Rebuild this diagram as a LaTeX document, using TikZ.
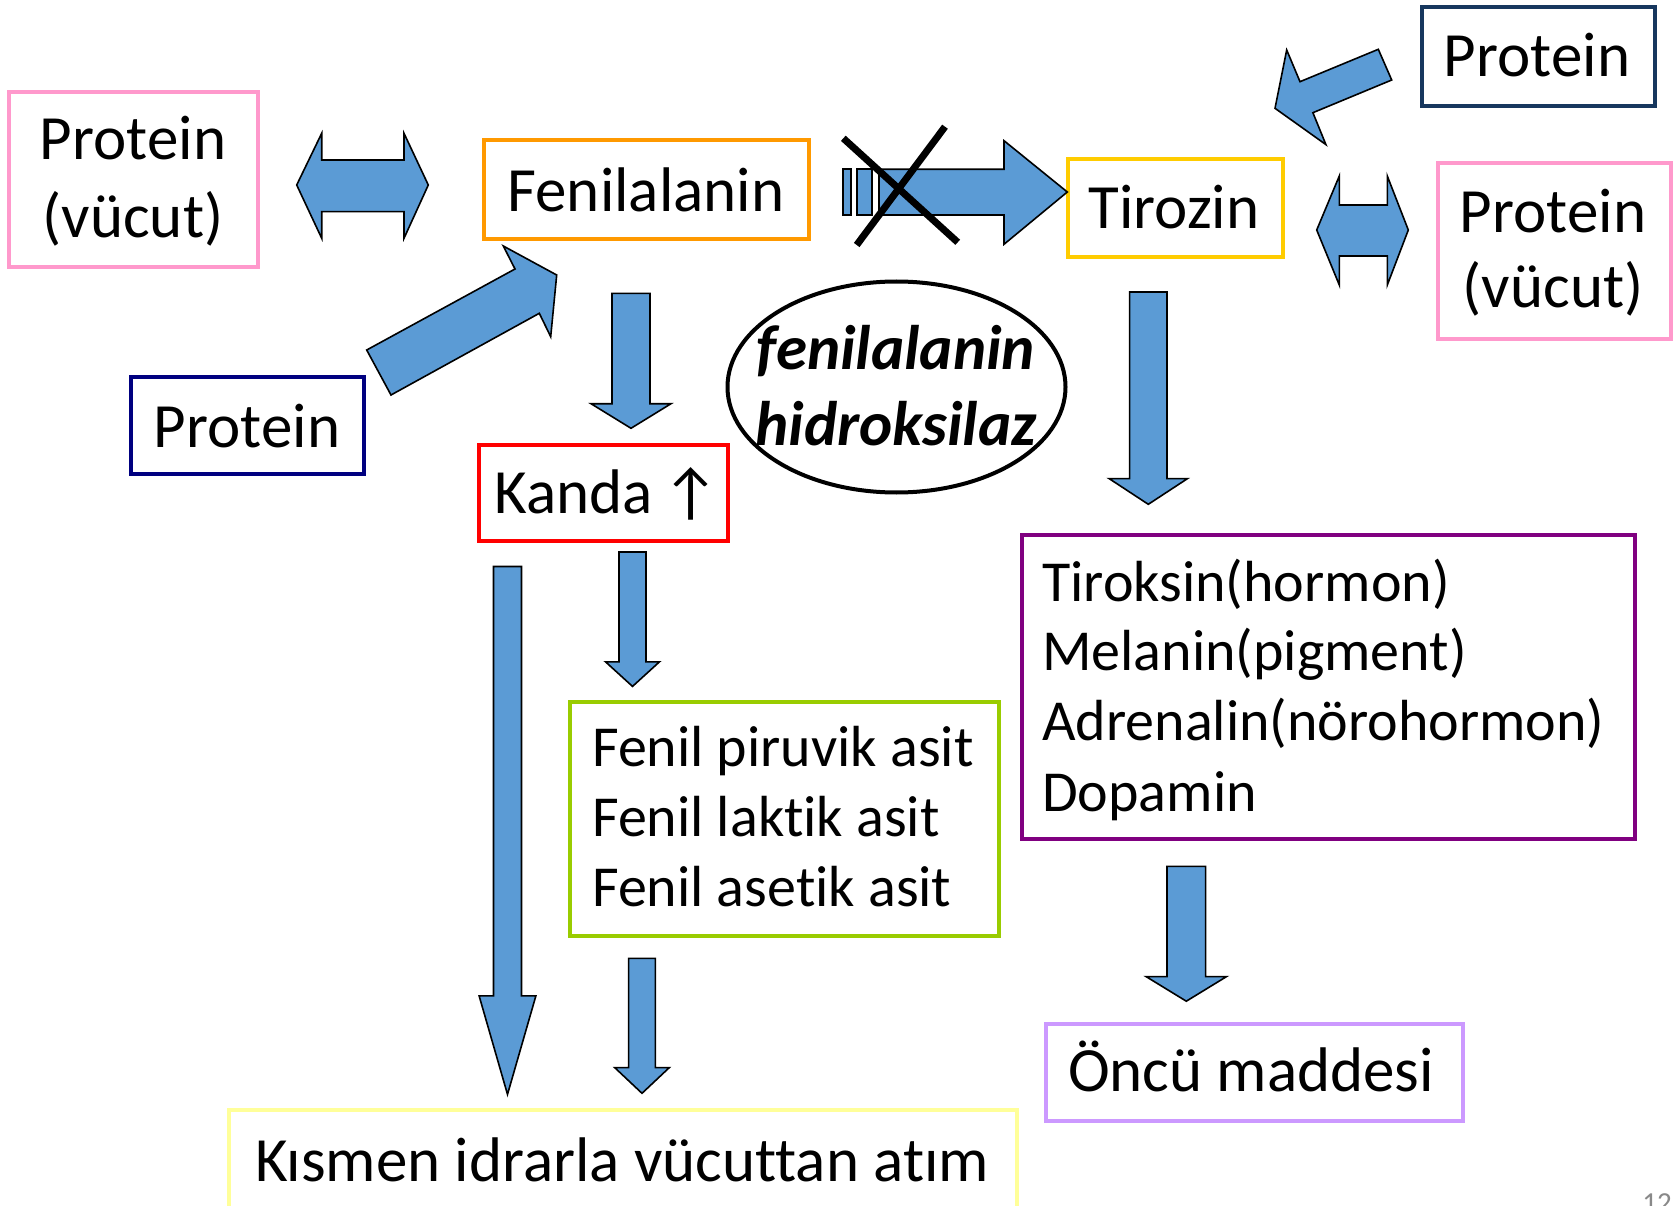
\documentclass[tikz,border=0pt]{standalone}
\usepackage{fontspec}
\setmainfont{Carlito}[Ligatures={NoCommon}]
\usetikzlibrary{shapes.geometric}
\definecolor{cpink}{HTML}{FF99CC}
\definecolor{corange}{HTML}{FF9900}
\definecolor{cnavy}{HTML}{000080}
\definecolor{cdeep}{HTML}{17375E}
\definecolor{cgold}{HTML}{FFCC00}
\definecolor{cred}{HTML}{FF0000}
\definecolor{cpurple}{HTML}{800080}
\definecolor{cgreen}{HTML}{99CC00}
\definecolor{clilac}{HTML}{CC99FF}
\definecolor{cyellow}{HTML}{FFFF99}
\definecolor{arrowblue}{HTML}{5B9BD5}
\definecolor{pagegray}{HTML}{898989}
\tikzset{
  box/.style={draw=#1, line width=4pt, fill=white, inner sep=0pt},
  lbl/.style={anchor=base, font=\fontsize{63}{75.6}\selectfont, inner sep=0pt},
  lblsm/.style={anchor=base west, font=\fontsize{58}{70}\selectfont, inner sep=0pt},
  lblbi/.style={anchor=base, font=\fontsize{63}{75.6}\selectfont\bfseries\itshape, inner sep=0pt},
  barrow/.style={fill=arrowblue, draw=black, line width=1.6pt, line join=miter},
  crossline/.style={draw=black, line width=7pt},
}
\newcommand{\blkdown}[6]{%
  \draw[barrow] ({#1-#2},#3) -- ({#1+#2},#3) -- ({#1+#2},#4) -- ({#1+#5},#4)
    -- (#1,#6) -- ({#1-#5},#4) -- ({#1-#2},#4) -- cycle;}
\begin{document}
\begin{tikzpicture}[x=1pt,y=-1pt]
\useasboundingbox (0,0) rectangle (1679,1206);
\clip (0,0) rectangle (1679,1206);
\fill[white] (0,0) rectangle (1679,1206);

% boxes
\node[box=cpink, minimum width=249.5pt, minimum height=175.5pt] (pL) at (133.25,179.75) {};
\node[box=corange, minimum width=325pt, minimum height=99pt] (fen) at (646.5,189.5) {};
\node[box=cgold, minimum width=215.4pt, minimum height=97.5pt] (tir) at (1175.3,208.25) {};
\node[box=cnavy, minimum width=233.4pt, minimum height=97pt] (pN) at (247.3,425.5) {};
\node[box=cdeep, minimum width=233.3pt, minimum height=99.3pt] (pT) at (1538.35,56.35) {};
\node[box=cpink, minimum width=232.7pt, minimum height=176pt] (pR) at (1554.65,251.3) {};
\node[box=cred, minimum width=249.3pt, minimum height=96pt] (kan) at (603.6,493) {};
\node[draw=black, line width=4pt, fill=white, ellipse, minimum width=338pt, minimum height=211pt, inner sep=0pt] (ell) at (896.5,387) {};
\node[box=cpurple, minimum width=613.5pt, minimum height=304pt] (pur) at (1328.25,687.45) {};
\node[box=cgreen, minimum width=429pt, minimum height=234pt] (grn) at (784,818.5) {};
\node[box=clilac, minimum width=417pt, minimum height=97.5pt] (onc) at (1254,1072.25) {};
\node[box=cyellow, minimum width=788pt, minimum height=98.5pt] (kis) at (623,1158.75) {};

% texts
\node[lbl] (pLa) at (133,160) {Protein};
\node[lbl] (pLb) at (133,238) {(vücut)};
\node[lbl] (fenT) at (646,212) {Fenilalanin};
\node[lbl] (tirT) at (1174,229) {Tirozin};
\node[lbl] (pNT) at (247,447.6) {Protein};
\node[lbl] (pTT) at (1537,77) {Protein};
\node[lbl] (pRa) at (1553,232.7) {Protein};
\node[lbl] (pRb) at (1553,308) {(vücut)};
\node[lbl] (kanT) at (607,513) {Kanda\hspace{-4pt} ↑};
\node[lblbi] (ellA) at (896,370) {fenilalanin};
\node[lblbi] (ellB) at (896,445) {hidroksilaz};
\node[lblsm] (purA) at (1042,601) {Tiroksin(hormon)};
\node[lblsm] (purB) at (1042,670) {Melanin(pigment)};
\node[lblsm] (purC) at (1042,740) {Adrenalin(nörohormon)};
\node[lblsm] (purD) at (1042,811) {Dopamin};
\node[lblsm] (grnA) at (592,766) {Fenil piruvik asit};
\node[lblsm] (grnB) at (592,836) {Fenil laktik asit};
\node[lblsm] (grnC) at (592,906.5) {Fenil asetik asit};
\node[lbl] (oncT) at (1251,1091.7) {Öncü maddesi};
\node[lbl] (kisT) at (622,1181) {Kısmen idrarla vücuttan atım};
\node[anchor=base east, inner sep=0pt, text=pagegray, font=\fontsize{29}{34}\selectfont] (page) at (1672,1212) {12};

% block arrows
\draw[barrow] (296.7,185) -- (321.7,133.3) -- (321.7,160) -- (404,160) -- (404,133.3)
  -- (428.3,185) -- (404,238.3) -- (404,211.7) -- (321.7,211.7) -- (321.7,238.3) -- cycle;
\draw[barrow] (366.7,350) -- (515,269) -- (503.3,246) -- (556.7,275) -- (550.7,336.7)
  -- (539.3,313.3) -- (391,395) -- cycle;
\draw[barrow] (1378.3,49.3) -- (1300,81.7) -- (1286.7,50) -- (1275,108.3) -- (1325.9,144.6)
  -- (1312.9,112.7) -- (1391.7,80) -- cycle;
\draw[barrow] (1316.7,230) -- (1339.3,176) -- (1339.3,205) -- (1387.3,205) -- (1387.3,176)
  -- (1408.3,230) -- (1387.3,285) -- (1387.3,256) -- (1339.3,256) -- (1339.3,285) -- cycle;
% crossed arrow
\draw[barrow] (842.7,169.3) rectangle (850.7,215);
\draw[barrow] (856.7,169.3) rectangle (871.7,215);
\draw[barrow] (879,169.3) -- (1004,169.3) -- (1004,140.7) -- (1067.3,192) -- (1004,244.3)
  -- (1004,215) -- (879,215) -- cycle;
\draw[crossline] (843.3,138.3) -- (957.7,242.3);
\draw[crossline] (945,126.7) -- (856.7,245);
% down arrows
\blkdown{631}{19}{293.4}{403.7}{40}{428.3}
\blkdown{1148.3}{18.7}{292}{478.6}{39.2}{504.3}
\blkdown{1186.3}{19.3}{866.3}{976.6}{40.2}{1001.2}
\blkdown{632.5}{13.5}{552}{661.8}{27}{686.4}
\blkdown{507.5}{14}{566.5}{995.8}{28.4}{1094.4}
\blkdown{642}{13.4}{958.4}{1067.6}{27.3}{1093.3}
\end{tikzpicture}
\end{document}
